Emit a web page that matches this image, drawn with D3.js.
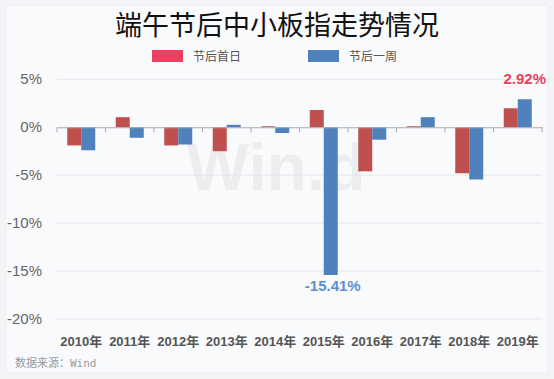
<!DOCTYPE html>
<meta charset="utf-8">
<script src="https://cdn.jsdelivr.net/npm/d3@7"></script>
<style>
body { margin: 0; background: #f3f4f6; }
text { font-family: "Liberation Sans", Arial, "Noto Sans CJK SC", sans-serif; }
</style>
<svg width="554" height="379"></svg>
<script>

// data (percent)
var years = ["2010年", "2011年", "2012年", "2013年", "2014年", "2015年", "2016年", "2017年", "2018年", "2019年"];
var firstDay = [-1.9, 1.05, -1.9, -2.5, 0.1, 1.8, -4.6, 0.1, -4.8, 1.98];
var firstWeek = [-2.4, -1.1, -1.8, 0.25, -0.6, -15.41, -1.3, 1.05, -5.45, 2.92];
var yTicks = [5, 0, -5, -10, -15, -20];
var seriesNames = ["节后首日", "节后一周"];

var svg = d3.select("svg");

// card
svg.append("rect")
    .attr("x", 6).attr("y", 5).attr("width", 542).attr("height", 368)
    .attr("fill", "#f9fafc").attr("stroke", "#eceef1");

var margin = {left: 57, right: 12, top: 79, bottom: 60};
var x = d3.scaleBand().domain(years).range([57, 542]);
var y = d3.scaleLinear().domain([-20, 5]).range([319, 79.3]);

// title
svg.append("text")
    .attr("x", 277).attr("y", 35)
    .attr("text-anchor", "middle")
    .attr("font-size", 27)
    .attr("fill", "#111")
    .text("端午节后中小板指走势情况");

// legend
var legendColors = ["#e8405e", "#4f81bd"];
var legendX = [152, 308];
seriesNames.forEach(function(n, i) {
  svg.append("rect")
      .attr("x", legendX[i]).attr("y", 50).attr("width", 31).attr("height", 12)
      .attr("fill", legendColors[i]);
  svg.append("text")
      .attr("x", legendX[i] + 41).attr("y", 60.5)
      .attr("font-size", 12).attr("fill", "#555")
      .text(n);
});

// watermark
svg.append("text")
    .attr("x", 276).attr("y", 190)
    .attr("text-anchor", "middle")
    .attr("font-size", 66).attr("font-weight", "bold")
    .attr("fill", "#000").attr("fill-opacity", 0.05)
    .text("Win.d");

// gridlines
svg.selectAll(".grid")
    .data(yTicks.filter(function(d) { return d != 0; }))
  .enter().append("line")
    .attr("class", "grid")
    .attr("x1", 57).attr("x2", 542)
    .attr("y1", function(d) { return y(d); })
    .attr("y2", function(d) { return y(d); })
    .attr("stroke", "#e4e6ea");

// y labels
svg.selectAll(".ylab")
    .data(yTicks)
  .enter().append("text")
    .attr("class", "ylab")
    .attr("x", 42)
    .attr("y", function(d) { return y(d) + 5; })
    .attr("text-anchor", "end")
    .attr("font-size", 15).attr("fill", "#666")
    .text(function(d) { return d + "%"; });

// bars
var bw = 14;
var series = [firstDay, firstWeek];
var barColors = ["#c0504d", "#4f81bd"];
series.forEach(function(vals, s) {
  svg.selectAll(".bar" + s)
      .data(vals)
    .enter().append("rect")
      .attr("class", "bar" + s)
      .attr("x", function(d, i) { return x(years[i]) + x.bandwidth() / 2 - bw + s * bw; })
      .attr("y", function(d) { return y(Math.max(0, d)); })
      .attr("width", bw)
      .attr("height", function(d) { return Math.abs(y(d) - y(0)); })
      .attr("fill", barColors[s]);
});

// zero axis with ticks
var zero = svg.append("g").attr("transform", "translate(0," + y(0) + ")")
    .call(d3.axisBottom(x).tickSize(0).tickFormat(""));
zero.select(".domain").attr("stroke", "#a9abae").attr("stroke-width", 1.2);
svg.selectAll(".xtick")
    .data(d3.range(years.length + 1))
  .enter().append("line")
    .attr("class", "xtick")
    .attr("x1", function(i) { return 57 + i * x.step(); })
    .attr("x2", function(i) { return 57 + i * x.step(); })
    .attr("y1", y(0)).attr("y2", y(0) + 5)
    .attr("stroke", "#a9abae");

// x labels
svg.selectAll(".xlab")
    .data(years)
  .enter().append("text")
    .attr("class", "xlab")
    .attr("x", function(d) { return x(d) + x.bandwidth() / 2; })
    .attr("y", 346)
    .attr("text-anchor", "middle")
    .attr("font-size", 13).attr("font-weight", "bold").attr("fill", "#555")
    .text(function(d) { return d; });

// value labels
svg.append("text")
    .attr("x", x(years[9]) + x.bandwidth() / 2 + 7)
    .attr("y", y(firstWeek[9]) - 15)
    .attr("text-anchor", "middle")
    .attr("font-size", 15).attr("font-weight", "bold").attr("fill", "#e8405e")
    .text(firstWeek[9].toFixed(2) + "%");
svg.append("text")
    .attr("x", x(years[5]) + x.bandwidth() / 2 + 9)
    .attr("y", y(firstWeek[5]) + 16)
    .attr("text-anchor", "middle")
    .attr("font-size", 15).attr("font-weight", "bold").attr("fill", "#5b8fd0")
    .text(firstWeek[5].toFixed(2) + "%");

// source
svg.append("text")
    .attr("x", 15).attr("y", 367)
    .attr("font-size", 11).attr("fill", "#999")
    .text("数据来源：")
  .append("tspan")
    .attr("font-family", "DejaVu Sans Mono, Liberation Mono, monospace")
    .text("Wind");

</script>
